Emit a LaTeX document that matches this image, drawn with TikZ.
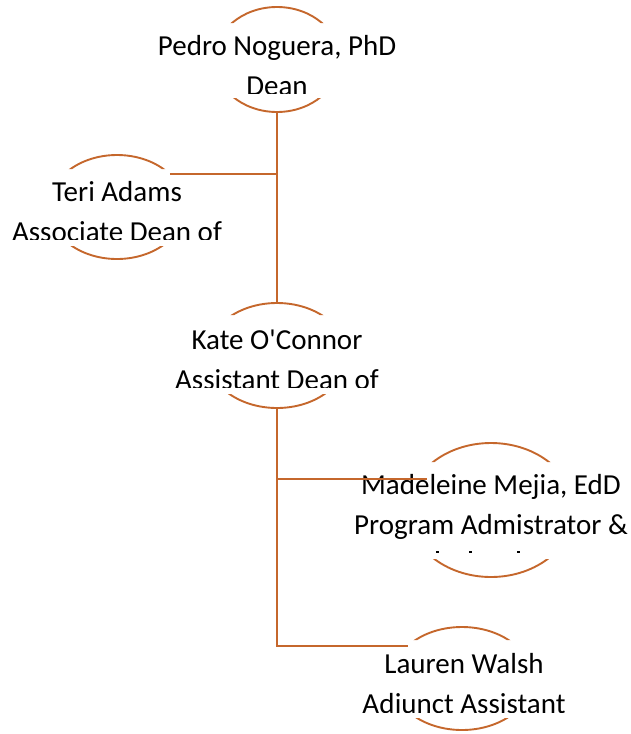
\documentclass[tikz,border=0pt]{standalone}
\usepackage{fontspec}
\newfontfamily\calibrifont{Carlito}
\usetikzlibrary{shapes.geometric}
\definecolor{orgline}{RGB}{197,103,44}
\newcommand\ovalarcs[5]{%
  \begin{scope}
    \clip (0,0) rectangle (631,#2) (0,#3) rectangle (631,734);
    \draw[conn] (#1.center) ellipse (#4pt and #5pt);
  \end{scope}}
\begin{document}
\begin{tikzpicture}[x=1pt,y=-1pt,
  conn/.style={draw=orgline,line width=1.9pt},
  oval/.style={ellipse,inner sep=0pt,draw=none},
  namelabel/.style={inner sep=0pt,anchor=base,font=\calibrifont\fontsize{29}{40.5}\selectfont,text=black}]
\useasboundingbox (0,0) rectangle (631,734);

% oval frames (named)
\node[oval,minimum width=125.2pt,minimum height=105pt] (pedro) at (277,59.5) {};
\node[oval,minimum width=136pt,minimum height=104pt] (teri) at (117,207) {};
\node[oval,minimum width=140pt,minimum height=105pt] (kate) at (277,355.5) {};
\node[oval,minimum width=166pt,minimum height=134pt] (madeleine) at (491,510) {};
\node[oval,minimum width=140pt,minimum height=103pt] (lauren) at (462,678.5) {};

\ovalarcs{pedro}{23}{98}{62.6}{52.5}
\ovalarcs{teri}{169}{246}{68}{52}
\ovalarcs{kate}{315}{394}{70}{52.5}
\ovalarcs{madeleine}{462}{559}{83}{67}
\ovalarcs{lauren}{640}{718}{70}{51.5}

% texts, clipped like the reference
\begin{scope}
  \clip (150,23) rectangle (410,93);
  \node[namelabel] (pedrotext) at (277,55) {\begin{tabular}[t]{@{}c@{}}Pedro Noguera, PhD\\Dean\end{tabular}};
\end{scope}
\begin{scope}
  \clip (0,169) rectangle (240,239);
  \node[namelabel] (teritext) at (117,201) {\begin{tabular}[t]{@{}c@{}}Teri Adams\\Associate Dean of\end{tabular}};
\end{scope}
\begin{scope}
  \clip (150,315) rectangle (410,387);
  \node[namelabel] (katetext) at (277,349) {\begin{tabular}[t]{@{}c@{}}Kate O'Connor\\Assistant Dean of\end{tabular}};
\end{scope}
\begin{scope}
  \clip (340,462) rectangle (631,553);
  \node[namelabel] (madeleinetext) at (491,494) {\begin{tabular}[t]{@{}c@{}}Madeleine Mejia, EdD\\Program Admistrator \&\end{tabular}};
\end{scope}
\fill (436,550.5) rectangle (438.5,553);
\fill (469,550.5) rectangle (471.5,553);
\fill (517,550.5) rectangle (519.5,553);
\begin{scope}
  \clip (340,640) rectangle (600,712);
  \node[namelabel] (laurentext) at (464,673) {\begin{tabular}[t]{@{}c@{}}Lauren Walsh\\Adjunct Assistant\end{tabular}};
\end{scope}

% connectors
\coordinate (madin) at (427,479);
\draw[conn] (pedro.south) -- (kate.north);
\draw[conn] (teri.32) -- (teri.32 -| pedro.south);
\draw[conn] (kate.south) |- (lauren.149);
\draw[conn] (kate.south |- madin) -- (madin);
\end{tikzpicture}
\end{document}
